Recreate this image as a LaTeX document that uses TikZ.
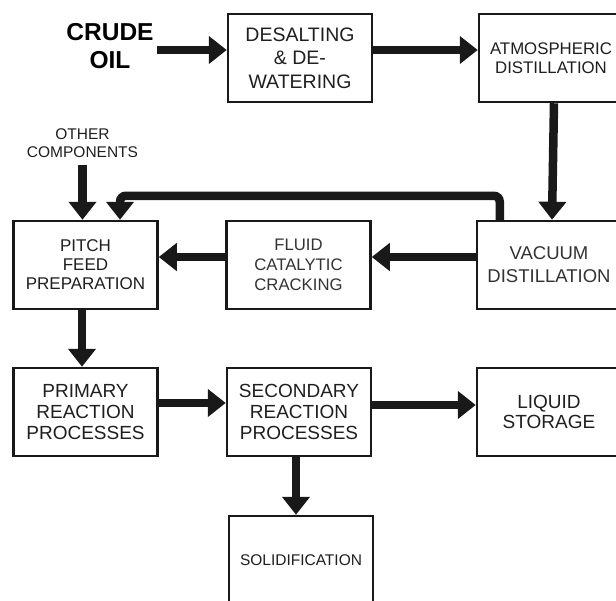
\documentclass[tikz,border=0pt]{standalone}
\usepackage{fontspec}
\setmainfont{Liberation Sans}
\usetikzlibrary{arrows.meta}
\newcommand{\fsz}[2]{\fontsize{#1}{#2}\selectfont}
\begin{document}
\begin{tikzpicture}[x=1pt, y=-1pt,
    box/.style={draw=black!90, line width=2.5pt, minimum width=144pt, minimum height=88pt, align=center, text=black!88},
    flow/.style={draw=black!90, line width=8.5pt, -{Triangle[length=18pt, width=27pt]}}]
        \clip (0,0) rectangle (616,600);
        \fill[white] (0,0) rectangle (616,600);
        % Blocks of the process
        \node[align=center, font=\bfseries\fsz{24.5}{28}] (crude) at (110,46) {CRUDE\\OIL};
        \node[box, font=\fsz{19.5}{23.5}] (des) at (300,58) {DESALTING\\\& DE-\\WATERING};
        \node[box, font=\fsz{16.8}{19}] (atm) at (551,58) {ATMOSPHERIC\\DISTILLATION};
        \node[align=center, font=\fsz{15.5}{17.5}, text=black!88] (other) at (82.5,143) {OTHER\\COMPONENTS};
        \node[box, font=\fsz{17}{19}] (pitch) at (85.5,265) {PITCH\\FEED\\PREPARATION};
        \node[box, font=\fsz{16.7}{20}, text=black!80] (fcc) at (298.5,265) {FLUID\\CATALYTIC\\CRACKING};
        \node[box, font=\fsz{18.5}{23}, text=black!80] (vac) at (549,265) {VACUUM\\DISTILLATION};
        \node[box, font=\fsz{19}{21}] (prim) at (85.5,412) {PRIMARY\\REACTION\\PROCESSES};
        \node[box, font=\fsz{19}{21}] (sec) at (299,412) {SECONDARY\\REACTION\\PROCESSES};
        \node[box, font=\fsz{19}{20}] (liq) at (549,412) {LIQUID\\STORAGE};
        \node[box, font=\fsz{15.5}{18}] (solid) at (301,560) {SOLIDIFICATION};

        \draw[flow] (crude.east |- 0,50) -- (des.west |- 0,50);
        \draw[flow] ([yshift=8pt]des.east) -- ([yshift=8pt]atm.west);
        \draw[flow] ([xshift=3pt]atm.south) -- ([xshift=3pt]vac.north);
        \draw[flow] ([yshift=8pt]vac.west) -- ([yshift=8pt]fcc.east);
        \draw[flow] ([yshift=8pt]fcc.west) -- ([yshift=8pt]pitch.east);
        \draw[flow, rounded corners=6pt] ([xshift=24pt]vac.north west) -- ++(0,24pt) -| ([xshift=34.5pt]pitch.north);
        \draw[flow] ([yshift=-4pt]other.south) -- (pitch.north -| other.south);
        \draw[flow] ([xshift=-3.5pt]pitch.south) -- ([xshift=-3.5pt]prim.north);
        \draw[flow] ([yshift=9pt]prim.east) -- ([yshift=9pt]sec.west);
        \draw[flow] ([yshift=7pt]sec.east) -- ([yshift=7pt]liq.west);
        \draw[flow] ([xshift=-3pt]sec.south) -- (solid.north -| 296,0);
    \end{tikzpicture}
\end{document}
